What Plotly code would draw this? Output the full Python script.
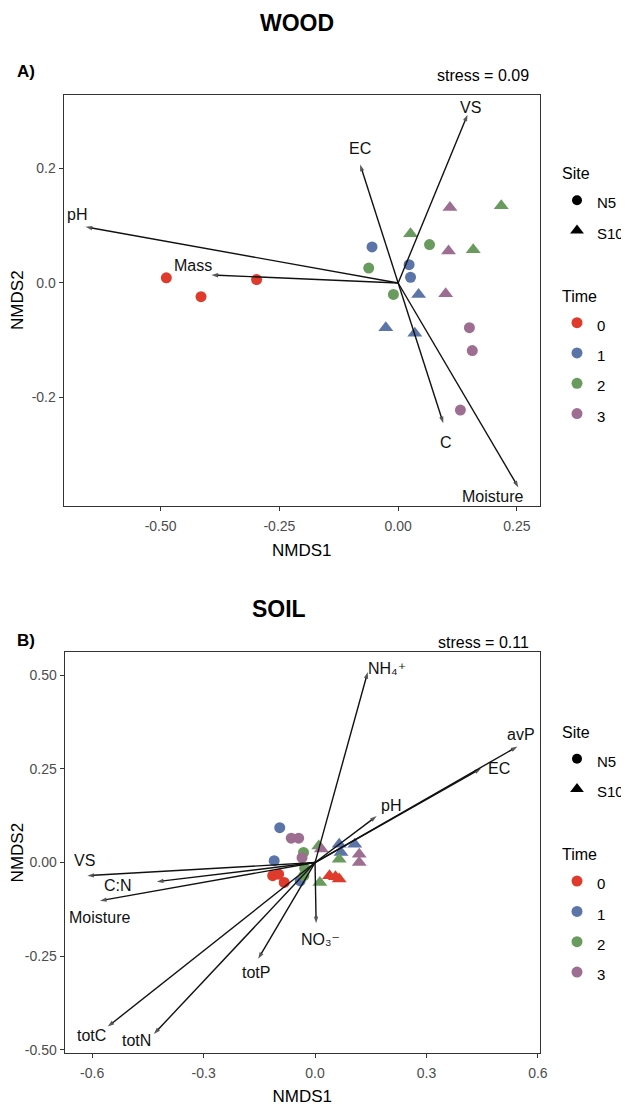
import plotly.graph_objects as go

# ---------------- WOOD (panel A) ----------------
wood_nmds1 = [-0.488, -0.415, -0.298, -0.055, 0.023, 0.026, -0.062, 0.066, -0.010, 0.150, 0.156, 0.131,
              0.043, -0.026, 0.035, 0.026, 0.158, 0.217, 0.109, 0.106, 0.100]
wood_nmds2 = [0.009, -0.024, 0.006, 0.063, 0.032, 0.010, 0.026, 0.067, -0.020, -0.078, -0.118, -0.222,
              -0.020, -0.078, -0.088, 0.086, 0.058, 0.135, 0.132, 0.056, -0.019]
wood_site = ["N5"] * 12 + ["S10"] * 9
wood_time = ["0", "0", "0", "1", "1", "1", "2", "2", "2", "3", "3", "3",
             "1", "1", "1", "2", "2", "2", "3", "3", "3"]

wood_vars = ["VS", "EC", "pH", "Mass", "C", "Moisture"]
wood_arrow_x = [0.146, -0.080, -0.658, -0.393, 0.095, 0.253]
wood_arrow_y = [0.294, 0.207, 0.098, 0.014, -0.245, -0.357]
wood_label_x = [0.152, -0.081, -0.677, -0.432, 0.100, 0.199]
wood_label_y = [0.307, 0.235, 0.119, 0.031, -0.278, -0.373]
wood_stress = "stress = 0.09"

# ---------------- SOIL (panel B) ----------------
soil_nmds1 = [-0.114, -0.098, -0.083, -0.095, -0.110, -0.040, -0.031, -0.028, -0.030, -0.064, -0.044, -0.035,
              0.039, 0.055, 0.065, 0.065, 0.107, 0.070, 0.010, 0.065, 0.013, 0.017, 0.119, 0.119]
soil_nmds2 = [-0.035, -0.031, -0.053, 0.093, 0.005, -0.049, 0.027, -0.015, -0.035, 0.065, 0.065, 0.013,
              -0.035, -0.038, -0.044, 0.049, 0.049, 0.027, 0.044, 0.009, -0.053, 0.036, 0.022, 0.000]
soil_site = ["N5"] * 12 + ["S10"] * 12
soil_time = ["0", "0", "0", "1", "1", "1", "2", "2", "2", "3", "3", "3",
             "0", "0", "0", "1", "1", "1", "2", "2", "2", "3", "3", "3"]

soil_vars = ["NH\u2084\u207a", "avP", "EC", "pH", "VS", "C:N", "Moisture",
             "NO\u2083\u207b", "totP", "totC", "totN"]
soil_arrow_x = [0.142, 0.545, 0.447, 0.166, -0.613, -0.426, -0.579, 0.003, -0.153, -0.558, -0.434]
soil_arrow_y = [0.509, 0.310, 0.251, 0.124, -0.035, -0.051, -0.102, -0.162, -0.257, -0.438, -0.458]
soil_label_x = [0.195, 0.555, 0.495, 0.205, -0.622, -0.530, -0.581, 0.016, -0.160, -0.603, -0.482]
soil_label_y = [0.517, 0.342, 0.251, 0.153, 0.005, -0.060, -0.147, -0.205, -0.294, -0.463, -0.476]
soil_stress = "stress = 0.11"

# ---------------- axes ----------------
wood_xticks = [-0.50, -0.25, 0.00, 0.25]
wood_xticktext = ["-0.50", "-0.25", "0.00", "0.25"]
wood_yticks = [-0.2, 0.0, 0.2]
wood_yticktext = ["-0.2", "0.0", "0.2"]
soil_xticks = [-0.6, -0.3, 0.0, 0.3, 0.6]
soil_xticktext = ["-0.6", "-0.3", "0.0", "0.3", "0.6"]
soil_yticks = [-0.50, -0.25, 0.00, 0.25, 0.50]
soil_yticktext = ["-0.50", "-0.25", "0.00", "0.25", "0.50"]

time_levels = ["0", "1", "2", "3"]
time_colors = {"0": "#DF3B2C", "1": "#5B75A9", "2": "#6A9B5E", "3": "#9E6E92"}
site_levels = ["N5", "S10"]
site_symbols = {"N5": "circle", "S10": "triangle-up"}
site_sizes = {"N5": 11, "S10": 13}

FONT = "Liberation Sans, Arial, DejaVu Sans, sans-serif"
# the page body keeps the browser's default 8px margin, so the figure starts at (8, 8)
OFF = 8
FW, FH = 629 - OFF, 1106 - OFF
ARROW_COLOR = "#111111"


def px_x(p):
    return (p - OFF) / FW


def px_y(p):
    return 1 - (p - OFF) / FH


fig = go.Figure()


def add_points(xs, ys, sites, times, xa, ya):
    for s in site_levels:
        for t in time_levels:
            px = [x for x, si, ti in zip(xs, sites, times) if si == s and ti == t]
            py = [y for y, si, ti in zip(ys, sites, times) if si == s and ti == t]
            if not px:
                continue
            fig.add_trace(go.Scatter(
                x=px, y=py, mode="markers", xaxis=xa, yaxis=ya, showlegend=False,
                marker=dict(symbol=site_symbols[s], size=site_sizes[s], color=time_colors[t],
                            line=dict(width=0)),
                hoverinfo="skip"))


def add_arrows(tx, ty, xa, ya):
    for x, y in zip(tx, ty):
        fig.add_trace(go.Scatter(
            x=[0, x], y=[0, y], mode="lines+markers", xaxis=xa, yaxis=ya, showlegend=False,
            line=dict(color=ARROW_COLOR, width=1.4),
            marker=dict(symbol=["circle", "arrow"], size=[0, 7], angleref="previous",
                        color=ARROW_COLOR, line=dict(width=0)),
            hoverinfo="skip"))


add_points(wood_nmds1, wood_nmds2, wood_site, wood_time, "x", "y")
add_points(soil_nmds1, soil_nmds2, soil_site, soil_time, "x2", "y2")
add_arrows(wood_arrow_x, wood_arrow_y, "x", "y")
add_arrows(soil_arrow_x, soil_arrow_y, "x2", "y2")


def add_legend(legend_id):
    for i, s in enumerate(site_levels):
        fig.add_trace(go.Scatter(
            x=[None], y=[None], mode="markers", legend=legend_id,
            name='<span style="font-size:15px">%s</span>' % s,
            legendgroup="site" + legend_id,
            legendgrouptitle=dict(text="Site", font=dict(size=16, color="black", family=FONT)) if i == 0 else None,
            marker=dict(symbol=site_symbols[s], size=site_sizes[s] - 1, color="black")))
    for i, t in enumerate(time_levels):
        fig.add_trace(go.Scatter(
            x=[None], y=[None], mode="markers", legend=legend_id,
            name='<span style="font-size:15px">%s</span>' % t,
            legendgroup="time" + legend_id,
            legendgrouptitle=dict(text="Time", font=dict(size=16, color="black", family=FONT)) if i == 0 else None,
            marker=dict(symbol="circle", size=11, color=time_colors[t])))


add_legend("legend")
add_legend("legend2")

annotations = []


def add_labels(lx, ly, labels, xr, yr):
    for x, y, t in zip(lx, ly, labels):
        annotations.append(dict(x=x, y=y, xref=xr, yref=yr, text=t, showarrow=False,
                                xanchor="center", yanchor="middle",
                                font=dict(size=16, color="#111111", family=FONT)))


add_labels(wood_label_x, wood_label_y, wood_vars, "x", "y")
add_labels(soil_label_x, soil_label_y, soil_vars, "x2", "y2")


def paper_text(px, py, text, size, anchor="center"):
    annotations.append(dict(x=px_x(px), y=px_y(py), xref="paper", yref="paper", text=text,
                            showarrow=False, xanchor=anchor, yanchor="middle",
                            font=dict(size=size, color="black", family=FONT)))


paper_text(304, 23, "<b>WOOD</b>", 23)
paper_text(285, 612, "<b>SOIL</b>", 23)
paper_text(15, 72, "<b>A)</b>", 17, "left")
paper_text(15, 643, "<b>B)</b>", 17, "left")
paper_text(543, 76, wood_stress, 16, "right")
paper_text(543, 645, soil_stress, 16, "right")

axis_common = dict(showline=True, mirror=True, linecolor="#333333", linewidth=1.3,
                   ticks="outside", ticklen=4, tickwidth=1, tickcolor="#333333",
                   tickfont=dict(size=14, color="#4D4D4D", family=FONT),
                   showgrid=False, zeroline=False)
title_font = dict(size=17, color="black", family=FONT)

legend_common = dict(xanchor="left", yanchor="top", traceorder="grouped",
                     tracegroupgap=38, font=dict(size=21, family=FONT, color="black"),
                     bgcolor="rgba(0,0,0,0)", itemclick=False, itemdoubleclick=False)

fig.update_layout(
    width=FW, height=FH, margin=dict(l=0, r=0, t=0, b=0),
    paper_bgcolor="white", plot_bgcolor="white",
    font=dict(family=FONT, color="black"),
    xaxis=dict(domain=[px_x(65), px_x(552)], range=[-0.704, 0.298], anchor="y",
               tickvals=wood_xticks, ticktext=wood_xticktext, ticklabelstandoff=3,
               title=dict(text="NMDS1", font=title_font, standoff=11), **axis_common),
    yaxis=dict(domain=[px_y(508), px_y(95)], range=[-0.389, 0.329], anchor="x",
               tickvals=wood_yticks, ticktext=wood_yticktext,
               title=dict(text="NMDS2", font=title_font, standoff=4), **axis_common),
    xaxis2=dict(domain=[px_x(66), px_x(552)], range=[-0.674, 0.605], anchor="y2",
                tickvals=soil_xticks, ticktext=soil_xticktext, ticklabelstandoff=3,
                title=dict(text="NMDS1", font=title_font, standoff=10), **axis_common),
    yaxis2=dict(domain=[px_y(1058), px_y(655)], range=[-0.509, 0.562], anchor="x2",
                tickvals=soil_yticks, ticktext=soil_yticktext,
                title=dict(text="NMDS2", font=title_font, standoff=3), **axis_common),
    legend=dict(x=px_x(570), y=px_y(157), **legend_common),
    legend2=dict(x=px_x(570), y=px_y(718), **legend_common),
    annotations=annotations,
    showlegend=True,
)

fig.write_html("out.html")
